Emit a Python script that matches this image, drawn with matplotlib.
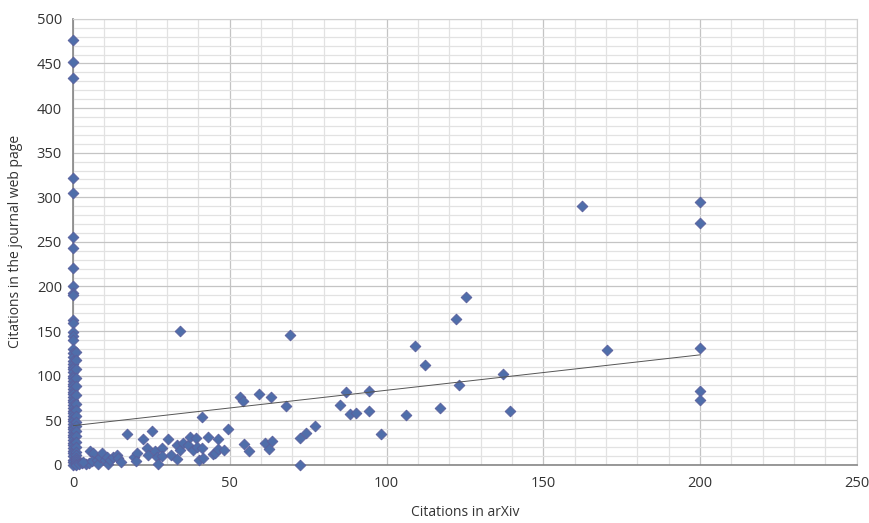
import numpy as np
import matplotlib.pyplot as plt
from matplotlib.ticker import MultipleLocator

# papers cited only in the journal (arXiv = 0 or 1)
col_x0 = [0] * 58
col_y0 = [476, 452, 434, 322, 305, 256, 243, 221, 201, 193, 191, 163, 159, 149,
          144, 140, 130, 125, 121, 117, 113, 110, 107, 104, 100, 97, 94, 91, 88,
          85, 82, 79, 76, 73, 70, 67, 64, 61, 58, 55, 52, 49, 46, 43, 40, 37, 34,
          31, 28, 25, 22, 19, 16, 13, 10, 6, 3, 0]
col_x1 = [1] * 22
col_y1 = [127, 118, 108, 98, 88, 78, 68, 62, 55, 48, 44, 38, 32, 26, 20, 15,
          11, 8, 5, 3, 1, 0]

# remaining papers
arxiv = [2, 3, 4, 5, 3.3, 5.4, 6.5, 6, 7.6, 8.1, 8.6, 9.2, 10.2, 10.7, 11.3,
         11.8, 12.9, 14, 14.5, 15.2, 17.1, 19.3, 20.3, 20.1, 22.2, 23.5, 24,
         25.3, 26.2, 26.7, 27.2, 28.3, 28.3, 30.2, 31.2, 33.1, 33.3, 34.2, 34.2,
         35.2, 36.8, 37.4, 38.4, 39.3, 39.5, 40.3, 41.1, 41.6, 41.1, 43.2, 44.8,
         45.3, 46.4, 46.4, 48.2, 49.4, 53.3, 54.2, 54.4, 56.2, 59.2, 61.3, 62.4,
         63.1, 63.4, 68, 69.3, 72.3, 72.5, 74.3, 77.3, 85.2, 87.2, 88.2, 90.3,
         94.3, 94.3, 98.2, 106.3, 109.2, 112.3, 117.2, 122.2, 123, 125.2, 137.2,
         139.3, 162.2, 170.2, 200, 200, 200, 200, 200]
journal = [1, 2, 1, 2, 3.7, 16, 13.8, 4.5, 5.6, 1.1, 9.3, 13, 5.6, 9.3, 1.1,
           5.6, 9.3, 11.2, 7.5, 3.7, 34.8, 9.3, 13, 4.5, 28.8, 18.7, 11.2,
           37.6, 16, 9.3, 1.1, 18.7, 10, 28.8, 11.2, 22.4, 6.4, 150.6, 16.8,
           24.3, 22.4, 31.8, 16.8, 29.9, 20.5, 5.6, 18.7, 7.5, 54.2, 31, 12.3,
           13, 28.8, 17.6, 16.8, 40, 76.6, 71.7, 23.2, 15.7, 80, 24.3, 17.6,
           76, 26.9, 66.5, 145.7, 0, 29.9, 35.5, 44, 66.9, 81.8, 56.8, 58.7,
           83, 60.2, 34.8, 55.7, 133.4, 112.1, 63.9, 164, 89.7, 188, 102,
           60.9, 290, 129, 295, 271, 131, 83.3, 72.9]

# linear trend line
trend_intercept = 44
trend_slope = 0.397
trend_range = [0, 200]

x = np.array(col_x0 + col_x1 + arxiv)
y = np.array(col_y0 + col_y1 + journal)

plt.rcParams['font.family'] = ['Open Sans', 'DejaVu Sans']

fig = plt.figure(figsize=(8.69, 5.23), dpi=100)
ax = fig.add_axes([0.084, 0.111, 0.902, 0.853])

ax.set_xlim(0, 250)
ax.set_ylim(0, 500)
ax.xaxis.set_major_locator(MultipleLocator(50))
ax.xaxis.set_minor_locator(MultipleLocator(10))
ax.yaxis.set_major_locator(MultipleLocator(50))
ax.yaxis.set_minor_locator(MultipleLocator(10))
ax.grid(which='major', color='#c4c4c4', linewidth=0.9)
ax.grid(which='minor', color='#e2e2e2', linewidth=0.9)
ax.set_axisbelow(True)
ax.tick_params(which='both', length=0)
ax.tick_params(labelsize=10.5, colors='#333333', pad=8)

for side in ['top', 'right']:
    ax.spines[side].set_color('#d0d0d0')
for side in ['left', 'bottom']:
    ax.spines[side].set_color('#868686')
    ax.spines[side].set_linewidth(1.2)

ax.scatter(x, y, marker='D', s=30, color='#4f6eaa', edgecolors='#5b5f9c',
           linewidths=0.6, zorder=3, clip_on=False)

tx = np.array(trend_range)
ax.plot(tx, trend_intercept + trend_slope * tx, color='#555555', linewidth=0.7,
        zorder=4)

ax.set_xlabel('Citations in arXiv', fontsize=10, color='#333333', labelpad=10)
ax.set_ylabel('Citations in the journal web page', fontsize=10,
              color='#333333', labelpad=10)

fig.savefig('out.png', dpi=100)
